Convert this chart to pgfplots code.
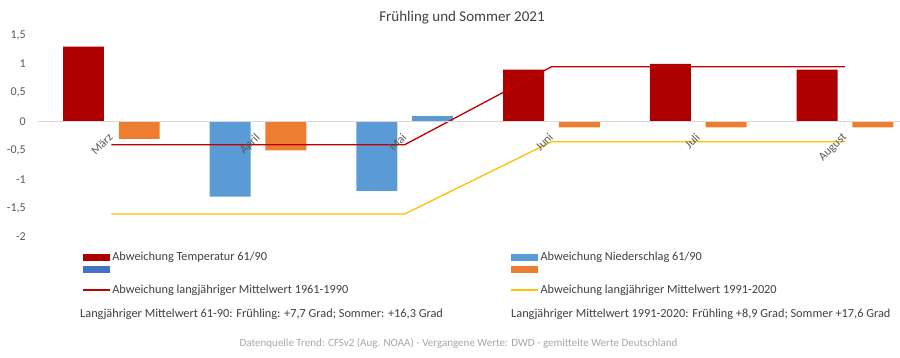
\documentclass[border=0pt]{standalone}
\usepackage{pgfplots}
\pgfplotsset{compat=1.18}
\usepackage{fontspec}
\setmainfont{Carlito}
\definecolor{tempred}{HTML}{AE0000}
\definecolor{nsblue}{HTML}{5B9BD5}
\definecolor{dkblue}{HTML}{4472C4}
\definecolor{orng}{HTML}{ED7D31}
\definecolor{linered}{HTML}{C00000}
\definecolor{lineyel}{HTML}{FFC000}
\definecolor{txtgray}{HTML}{595959}
\definecolor{dkgray}{HTML}{404040}
\definecolor{zerogray}{HTML}{D9D9D9}
\definecolor{srcgray}{HTML}{A6A6A6}
\pgfplotsset{
  barlegend/.style={legend image code/.code={\fill[##1] (0pt,-3.5pt) rectangle (27pt,3.5pt);}},
  linelegend/.style={legend image code/.code={\draw[##1] (0pt,0pt) -- (27pt,0pt); \path (0pt,14pt);}},
}
\newcommand{\cw}[1]{\makebox[396pt][l]{#1}}
\begin{document}
\begin{tikzpicture}
\useasboundingbox (0pt,0pt) rectangle (900pt,357pt);
\begin{axis}[
  at={(38pt,120pt)}, anchor=south west,
  scale only axis, width=862pt, height=202pt,
  xmin=-0.5, xmax=5.375, ymin=-2, ymax=1.5,
  axis on top,
  axis x line=middle, axis y line=left,
  x axis line style={draw=zerogray, line width=0.8pt, -},
  y axis line style={draw=none},
  hide obscured x ticks=false, hide obscured y ticks=false,
  major tick length=0pt,
  xtick={0,1,2,3,4,5},
  xticklabels={März,April,Mai,Juni,Juli,August},
  ytick={-2,-1.5,-1,-0.5,0,0.5,1,1.5},
  /pgf/number format/.cd, use comma, 1000 sep={}, assume math mode=true,
  /pgfplots/.cd,
  tick label style={font=\fontsize{12}{14}\selectfont, text=txtgray},
  xticklabel style={xshift=-3.5pt, yshift=-9pt, rotate=45, anchor=north east, inner sep=1pt},
  yticklabel style={anchor=east, inner sep=0pt, xshift=-12pt},
  clip=false,
  legend columns=2,
  legend cell align=left,
  legend style={at={(axis description cs:0.0508,-0.065)}, anchor=north west,
    draw=none, fill=none, inner sep=0pt,
    font=\fontsize{12.3}{14}\selectfont, text=dkgray,
    row sep=2pt,
    /tikz/every odd column/.append style={column sep=0pt},
    /tikz/every even column/.append style={column sep=0pt}},
]
\addplot[ybar, bar width=0.279, bar shift=-0.19, fill=tempred, draw=none, barlegend]
  coordinates {(0,1.3) (3,0.9) (4,1.0) (5,0.9)};
\addlegendentry{\cw{Abweichung Temperatur 61/90}}
\addplot[ybar, bar width=0.279, bar shift=-0.19, fill=nsblue, draw=none, barlegend]
  coordinates {(1,-1.3) (2,-1.2)};
\addlegendentry{Abweichung Niederschlag 61/90}
\addlegendimage{fill=dkblue, draw=none, barlegend}
\addlegendentry{\cw{}}
\addplot[ybar, bar width=0.279, bar shift=0.19, fill=orng, draw=none, barlegend]
  coordinates {(0,-0.3) (1,-0.5) (3,-0.1) (4,-0.1) (5,-0.1)};
\addlegendentry{}
\addplot[ybar, bar width=0.279, bar shift=0.19, fill=nsblue, draw=none, forget plot]
  coordinates {(2,0.1)};
\addplot[linered, line width=1.3pt, sharp plot, linelegend]
  coordinates {(0,-0.4) (1,-0.4) (2,-0.4) (3,0.95) (4,0.95) (5,0.95)};
\addlegendentry{\cw{Abweichung langjähriger Mittelwert 1961-1990}}
\addplot[lineyel, line width=1.3pt, sharp plot, linelegend]
  coordinates {(0,-1.6) (1,-1.6) (2,-1.6) (3,-0.35) (4,-0.35) (5,-0.35)};
\addlegendentry{Abweichung langjähriger Mittelwert 1991-2020}
\end{axis}
\node[font=\fontsize{15}{18}\selectfont, text=dkgray] at (462pt,339pt) {Frühling und Sommer 2021};
\node[anchor=west, inner sep=0pt, font=\fontsize{12.3}{14}\selectfont, text=dkgray] at (80pt,43pt)
  {Langjähriger Mittelwert 61-90: Frühling: +7,7 Grad; Sommer: +16,3 Grad};
\node[anchor=west, inner sep=0pt, font=\fontsize{12.3}{14}\selectfont, text=dkgray] at (511pt,43pt)
  {Langjähriger Mittelwert 1991-2020: Frühling +8,9 Grad; Sommer +17,6 Grad};
\node[font=\fontsize{11}{13}\selectfont, text=srcgray] at (458.5pt,13.5pt)
  {Datenquelle Trend: CFSv2 (Aug. NOAA) - Vergangene Werte: DWD - gemittelte Werte Deutschland};
\end{tikzpicture}
\end{document}
